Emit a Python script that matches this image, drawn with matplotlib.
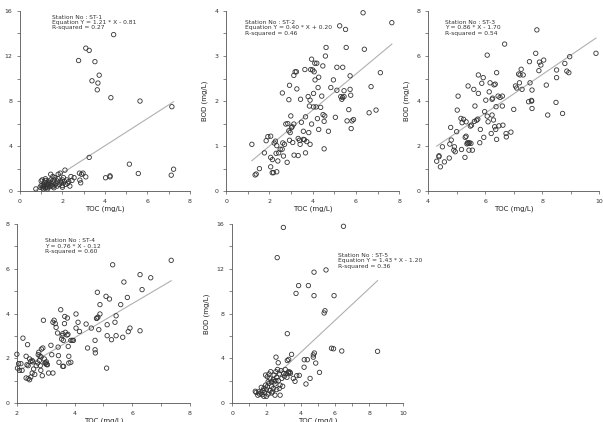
import matplotlib.pyplot as plt
from matplotlib.ticker import MultipleLocator

# ST-1
x1 = [4.41, 3.1, 3.26, 2.76, 3.53, 3.73, 3.39, 3.67, 3.64, 4.28, 5.65, 7.15,
      3.26, 5.15, 7.23, 5.57, 7.12, 4.24, 4.24, 4.03, 2.8, 2.97, 2.9, 3.1, 2.82,
      2.86, 2.12,
      0.75, 0.95, 1.0, 1.05, 1.0, 1.05, 1.1, 1.1, 1.15, 1.15, 1.2, 1.2, 1.25, 1.25,
      1.3, 1.3, 1.35, 1.35, 1.4, 1.4, 1.45, 1.5, 1.5, 1.55, 1.55, 1.6, 1.6, 1.65,
      1.7, 1.75, 1.75, 1.8, 1.8, 1.85, 1.9, 1.9, 1.95, 2.0, 2.0, 2.05, 2.1, 2.15,
      2.2, 2.25, 2.3, 2.35, 2.4, 2.45, 2.55, 1.45, 1.2, 1.65, 2.0, 1.1, 1.3, 1.6]
y1 = [13.9, 12.7, 12.5, 11.6, 11.5, 10.3, 9.8, 9.6, 9.0, 8.3, 8.0, 7.5,
      3.0, 2.4, 1.95, 1.57, 1.42, 1.36, 1.27, 1.19, 1.6, 1.6, 1.5, 1.27, 0.98,
      0.74, 1.87,
      0.2, 0.35, 0.5, 0.3, 0.9, 1.0, 0.4, 0.6, 0.5, 0.8, 1.1, 0.3, 0.45, 0.7,
      0.55, 0.35, 0.9, 0.6, 0.4, 0.75, 1.0, 0.5, 0.65, 1.3, 0.4, 0.8, 1.0, 0.55,
      0.7, 0.9, 0.45, 1.5, 1.1, 0.6, 0.9, 1.6, 0.75, 1.0, 0.5, 1.2, 0.85, 0.6,
      1.0, 0.7, 0.85, 0.45, 1.3, 0.95, 1.2, 1.5, 0.95, 1.2, 0.35, 0.2, 0.2, 0.3]

# ST-2
x2 = [1.19, 1.34, 1.39, 1.54, 1.77, 1.85, 1.93, 2.06, 2.06, 2.06, 2.14, 2.13,
      2.19, 2.34, 2.22, 2.28, 2.34, 2.31, 2.39, 2.43, 2.5, 2.59, 2.6, 2.62, 2.65,
      2.7, 2.76, 2.82, 2.85, 2.9, 2.93, 2.9, 2.93, 2.96, 2.99, 3.02, 3.05, 3.08,
      3.13, 3.13, 3.19, 3.25, 3.14, 3.27, 3.33, 3.33, 3.39, 3.42, 3.44, 3.48,
      3.57, 3.57, 3.62, 3.64, 3.67, 3.67, 3.73, 3.79, 3.82, 3.85, 3.88, 3.88,
      3.91, 3.95, 3.95, 4.0, 4.04, 4.04, 4.07, 4.1, 4.11, 4.16, 4.19, 4.22, 4.25,
      4.28, 4.28, 4.37, 4.42, 4.47, 4.48, 4.53, 4.53, 4.56, 4.59, 4.62, 4.73,
      4.84, 4.96, 5.05, 5.12, 5.12, 5.25, 5.3, 5.35, 5.38, 5.39, 5.45, 5.45, 5.52,
      5.55, 5.59, 5.67, 5.73, 5.73, 5.76, 5.78, 5.82, 5.89, 6.33, 6.39, 6.61,
      6.7, 6.93, 7.13, 7.66]
y2 = [1.04, 0.36, 0.38, 0.5, 0.85, 1.12, 1.21, 1.22, 0.54, 0.75, 0.7, 0.41,
      0.41, 0.43, 1.07, 1.11, 1.01, 0.84, 0.67, 0.85, 0.93, 0.93, 2.18, 1.07, 0.78,
      1.04, 1.49, 0.64, 1.5, 2.03, 2.35, 1.34, 1.13, 1.3, 1.67, 1.41, 1.43, 1.08,
      1.49, 2.57, 2.65, 2.65, 0.8, 2.27, 1.17, 0.79, 1.13, 1.04, 2.04, 1.53,
      1.33, 1.15, 1.14, 2.7, 0.85, 1.65, 1.1, 2.1, 1.3, 1.89, 2.02, 1.04,
      2.7, 2.93, 1.49, 2.69, 1.87, 2.17, 2.65, 2.84, 2.47, 1.87, 2.84, 1.61, 2.3,
      2.53, 1.37, 1.86, 2.11, 2.78, 1.7, 0.94, 1.55, 1.67, 3.0, 3.19, 1.33,
      2.3, 2.47, 1.64, 2.24, 2.75, 3.67, 2.1, 2.04, 2.08, 2.75, 2.23, 2.1, 3.59,
      3.19, 1.56, 1.81, 2.56, 2.26, 2.13, 1.39, 1.56, 1.59, 3.96, 3.15, 1.74,
      2.32, 1.8, 2.63, 3.74]

# ST-3
x3 = [4.3, 4.38, 4.38, 4.43, 4.5, 4.57, 4.74, 4.76, 4.79, 4.81, 4.9, 4.92, 4.95,
      5.0, 5.02, 5.05, 5.15, 5.17, 5.19, 5.24, 5.29, 5.3, 5.33, 5.33, 5.36, 5.38,
      5.41, 5.45, 5.5, 5.4, 5.43, 5.48, 5.52, 5.55, 5.6, 5.62, 5.64, 5.7, 5.74,
      5.76, 5.76, 5.81, 5.83, 5.88, 5.93, 5.95, 5.98, 6.02, 6.07, 6.07, 6.1, 6.14,
      6.17, 6.21, 6.24, 6.26, 6.24, 6.29, 6.31, 6.35, 6.33, 6.37, 6.38, 6.4, 6.4,
      6.45, 6.48, 6.52, 6.6, 6.6, 6.62, 6.68, 6.73, 6.74, 6.9, 7.0, 7.06, 7.1,
      7.17, 7.2, 7.22, 7.26, 7.29, 7.33, 7.52, 7.55, 7.57, 7.62, 7.63, 7.64, 7.64,
      7.77, 7.81, 7.88, 7.9, 7.95, 8.05, 8.14, 8.19, 8.48, 8.5, 8.5, 8.71, 8.79,
      8.86, 8.93, 8.96, 9.88]
y3 = [1.33, 1.57, 1.53, 1.08, 1.97, 1.3, 1.47, 2.09, 2.83, 2.27, 1.82, 1.97, 1.75,
      2.64, 3.6, 4.22, 3.23, 1.85, 3.04, 3.19, 1.5, 2.39, 2.44, 3.08, 2.1, 2.15,
      2.12, 2.15, 2.12, 4.67, 1.82, 2.89, 2.93, 1.82, 4.52, 3.1, 3.78, 3.15, 3.2,
      5.16, 4.34, 2.15, 2.74, 4.79, 5.04, 2.39, 3.53, 4.04, 6.04, 3.33, 3.08, 4.41,
      4.81, 2.56, 4.08, 4.13, 3.38, 3.16, 4.72, 4.75, 2.86, 2.74, 3.75, 5.26, 2.3,
      4.22, 2.9, 4.16, 4.22, 3.78, 2.93, 6.53, 2.56, 2.41, 2.62, 3.63, 4.67, 4.58,
      5.2, 4.81, 5.16, 5.41, 4.52, 5.16, 3.97, 5.75, 4.81, 4.03, 4.0, 3.67, 4.49,
      6.12, 7.16, 5.35, 5.73, 5.6, 5.82, 4.71, 3.38, 3.94, 5.04, 5.38, 3.45, 5.67,
      5.33, 5.26, 5.97, 6.12]

# ST-4
x4 = [2.0, 2.02, 2.06, 2.09, 2.14, 2.18, 2.21, 2.32, 2.35, 2.37, 2.39, 2.32, 2.39,
      2.44, 2.48, 2.53, 2.44, 2.48, 2.53, 2.55, 2.58, 2.62, 2.67, 2.72, 2.74, 2.76,
      2.8, 2.84, 2.78, 2.85, 2.81, 2.83, 2.88, 2.9, 2.92, 2.95, 2.97, 3.0, 3.03,
      3.02, 3.06, 3.1, 3.18, 3.21, 3.25, 3.25, 3.29, 3.33, 3.36, 3.41, 3.43, 3.44,
      3.46, 3.52, 3.55, 3.57, 3.59, 3.61, 3.59, 3.62, 3.65, 3.66, 3.68, 3.74, 3.77,
      3.75, 3.78, 3.8, 3.8, 3.87, 3.87, 3.92, 3.96, 4.05, 4.05, 4.12, 4.17, 4.4,
      4.45, 4.58, 4.71, 4.72, 4.71, 4.76, 4.78, 4.81, 4.79, 4.84, 4.88, 4.88,
      5.09, 5.11, 5.13, 5.13, 5.21, 5.28, 5.32, 5.4, 5.44, 5.44, 5.6, 5.67, 5.71,
      5.83, 5.86, 5.92, 6.27, 6.27, 6.34, 6.64, 7.35]
y4 = [2.18, 1.56, 1.76, 1.46, 1.76, 1.46, 2.9, 2.09, 1.71, 2.61, 1.67, 1.12, 1.09,
      1.04, 1.16, 1.34, 1.97, 1.86, 1.9, 1.84, 1.52, 1.28, 1.67, 1.79, 2.16, 2.27,
      2.1, 2.06, 1.9, 2.41, 1.67, 1.46, 1.22, 2.46, 3.7, 1.97, 1.79, 1.78, 1.72,
      1.84, 1.71, 1.34, 2.58, 2.16, 1.34, 3.61, 3.7, 3.55, 3.38, 3.13, 2.5, 2.12,
      1.82, 4.17, 2.86, 3.01, 3.1, 2.8, 1.64, 1.64, 3.55, 3.87, 3.16, 3.04, 3.07,
      3.8, 2.53, 2.09, 1.79, 1.82, 2.8, 2.8, 2.8, 3.98, 3.35, 3.61, 3.2, 3.53,
      2.46, 3.35, 2.38, 2.24, 2.8, 3.78, 3.8, 3.84, 4.95, 3.28, 3.98, 4.4,
      4.77, 1.56, 3.5, 3.01, 4.65, 2.83, 6.18, 3.61, 3.9, 3.01, 4.4, 2.94, 5.41,
      4.72, 3.19, 3.35, 5.74, 3.23, 5.07, 5.6, 6.38]

# ST-5
x5 = [2.99, 6.5, 2.63, 5.48, 4.78, 3.88, 4.45, 3.73, 4.78, 5.95, 5.37, 5.42, 3.22,
      5.8, 5.92, 6.4, 8.49, 2.56, 2.69, 3.47, 3.22, 3.3, 4.21, 4.39, 4.2, 4.74,
      4.8, 4.74, 4.88, 5.1, 4.55, 4.31, 3.77, 3.92, 3.67, 3.57, 3.3, 3.38, 3.4,
      1.35, 1.4, 1.5, 1.6, 1.7, 1.75, 1.8, 1.85, 1.9, 1.95, 1.95, 2.0, 2.05, 2.05,
      2.1, 2.1, 2.15, 2.2, 2.2, 2.25, 2.3, 2.3, 2.35, 2.4, 2.4, 2.45, 2.5, 2.5,
      2.55, 2.6, 2.6, 2.65, 2.7, 2.75, 2.8, 2.8, 2.85, 2.9, 2.95, 3.0, 3.05, 3.1,
      3.15, 3.2, 3.3, 1.7, 2.0, 2.3, 1.55, 2.15, 2.45, 2.75, 1.85, 2.55]
y5 = [15.7, 15.8, 13.0, 11.9, 11.7, 10.5, 10.5, 9.8, 9.6, 9.6, 8.05, 8.25, 6.2,
      4.9, 4.85, 4.65, 4.62, 4.1, 3.6, 4.35, 3.8, 3.9, 3.87, 3.87, 3.2, 4.3,
      4.47, 4.1, 3.57, 2.74, 2.2, 1.7, 2.44, 2.47, 1.94, 2.2, 2.7, 2.75, 2.65,
      1.05, 0.95, 0.7, 0.8, 0.9, 0.75, 1.1, 1.3, 0.95, 1.6, 2.5, 1.2, 2.35, 1.45,
      0.8, 1.9, 1.75, 1.1, 2.2, 2.8, 1.5, 1.9, 1.0, 2.1, 1.3, 2.5, 0.7, 1.7,
      2.8, 2.3, 1.2, 3.0, 2.0, 2.6, 0.7, 1.6, 2.9, 2.2, 1.5, 2.65, 2.4, 3.0,
      2.6, 2.3, 2.8, 1.4, 0.6, 0.9, 1.0, 2.6, 1.9, 1.3, 0.6, 2.0]

slopes = [1.21, 0.40, 0.86, 0.76, 1.43]
intercepts = [-0.81, 0.20, -1.70, -0.12, -1.20]
labels = [
    ["Station No : ST-1", "Equation Y = 1.21 * X - 0.81", "R-squared = 0.27"],
    ["Station No : ST-2", "Equation Y = 0.40 * X + 0.20", "R-squared = 0.46"],
    ["Station No : ST-3", "Y = 0.86 * X - 1.70", "R-squared = 0.54"],
    ["Station No : ST-4", "Y = 0.76 * X - 0.12", "R-squared = 0.60"],
    ["Station No : ST-5", "Equation Y = 1.43 * X - 1.20", "R-squared = 0.36"],
]

xs = [x1, x2, x3, x4, x5]
ys = [y1, y2, y3, y4, y5]

# axes rects in figure fractions, limits, tick steps, text anchor
rects = [
    [0.033, 0.547, 0.282, 0.427],
    [0.375, 0.547, 0.287, 0.427],
    [0.710, 0.547, 0.284, 0.427],
    [0.028, 0.045, 0.287, 0.424],
    [0.385, 0.045, 0.284, 0.424],
]
xlims = [(0, 8), (0, 8), (4, 10), (2, 8), (0, 10)]
ylims = [(0, 16), (0, 4), (0, 8), (0, 8), (0, 16)]
ysteps = [4, 1, 2, 2, 4]
text_pos = [(0.19, 0.98), (0.11, 0.95), (0.10, 0.95), (0.16, 0.92), (0.62, 0.84)]

gray = '#555555'
fig = plt.figure(figsize=(6.03, 4.22), dpi=100)

for i in range(5):
    ax = fig.add_axes(rects[i])
    ax.scatter(xs[i], ys[i], s=10, facecolors='none', edgecolors='#333333',
               linewidths=0.6, clip_on=False, zorder=3)
    lo, hi = min(xs[i]), max(xs[i])
    ax.plot([lo, hi], [slopes[i] * lo + intercepts[i], slopes[i] * hi + intercepts[i]],
            color='#b0b0b0', lw=0.8, zorder=2)

    ax.set_xlim(xlims[i])
    ax.set_ylim(ylims[i])
    ax.xaxis.set_major_locator(MultipleLocator(2))
    ax.xaxis.set_minor_locator(MultipleLocator(1))
    ax.yaxis.set_major_locator(MultipleLocator(ysteps[i]))
    ax.yaxis.set_minor_locator(MultipleLocator(ysteps[i] / 2))
    for side in ['top', 'right']:
        ax.spines[side].set_visible(False)
    for side in ['left', 'bottom']:
        ax.spines[side].set_color(gray)
        ax.spines[side].set_linewidth(0.6)
    ax.tick_params(which='both', direction='out', length=2.5, width=0.5,
                   color=gray, labelsize=4.5, labelcolor='#333333', pad=3)

    ax.set_xlabel('TOC (mg/L)', fontsize=5, color='#222222', labelpad=1)
    ax.set_ylabel('BOD (mg/L)', fontsize=5, color='#222222', labelpad=5)

    tx, ty = text_pos[i]
    ax.text(tx, ty, '\n'.join(labels[i]), transform=ax.transAxes, fontsize=4.3,
            va='top', ha='left', color='#333333', linespacing=1.1)

fig.savefig('out.png', dpi=100)
